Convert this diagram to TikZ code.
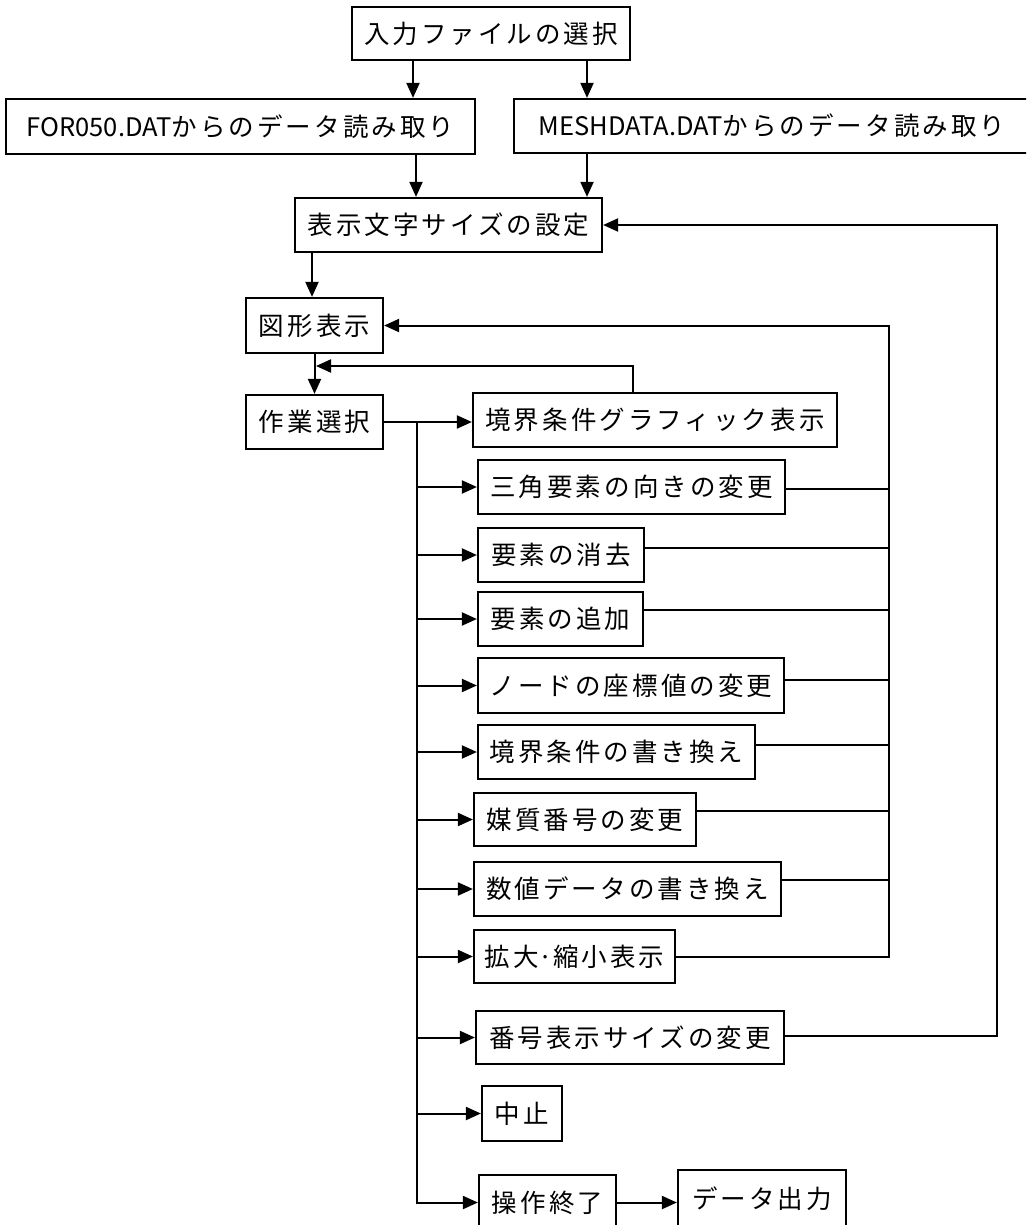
\documentclass[tikz,border=0pt]{standalone}
\usepackage{fontspec}
\usetikzlibrary{arrows.meta}
\newfontfamily\jp[LetterSpace=12]{Noto Sans CJK JP}
\newfontfamily\jpl{Noto Sans CJK JP}
\begin{document}
\begin{tikzpicture}[x=1pt,y=-1pt,
  bx/.style={draw, line width=2.2pt, inner sep=0pt, font=\jp\fontsize{25.5}{30}\selectfont},
  ln/.style={line width=2pt},
  arr/.style={ln, -{Triangle[length=15pt,width=13pt]}}]
\useasboundingbox (0,0) rectangle (1026,1225);
\clip (0,0) rectangle (1026,1225);
\fill[white] (0,0) rectangle (1026,1225);
% boxes
\node[bx, minimum width=278pt, minimum height=53pt] (b1) at (491,33.5) {入力ファイルの選択};
\node[bx, minimum width=469pt, minimum height=55pt] (b2) at (240.5,126.5) {{\jpl FOR050.DAT}からのデータ読み取り};
\node[bx, minimum width=516pt, minimum height=54pt] (b3) at (772,126) {{\jpl MESHDATA.DAT}からのデータ読み取り};
\node[bx, minimum width=307pt, minimum height=54pt] (b4) at (448.5,225) {表示文字サイズの設定};
\node[bx, minimum width=137pt, minimum height=55pt] (b5) at (314.5,325.5) {図形表示};
\node[bx, minimum width=137pt, minimum height=54pt] (b6) at (314.5,422) {作業選択};
\node[bx, minimum width=364pt, minimum height=54pt] (b7) at (655,420) {境界条件グラフィック表示};
\node[bx, minimum width=307pt, minimum height=54pt] (b8) at (631.5,487) {三角要素の向きの変更};
\node[bx, minimum width=166pt, minimum height=54pt] (b9) at (561,555) {要素の消去};
\node[bx, minimum width=165pt, minimum height=54pt] (b10) at (560.5,619) {要素の追加};
\node[bx, minimum width=306pt, minimum height=55pt] (b11) at (631,685.5) {ノードの座標値の変更};
\node[bx, minimum width=277pt, minimum height=54pt] (b12) at (616.5,752) {境界条件の書き換え};
\node[bx, minimum width=222pt, minimum height=53pt] (b13) at (585,819.5) {媒質番号の変更};
\node[bx, minimum width=307pt, minimum height=54pt] (b14) at (627.5,889) {数値データの書き換え};
\node[bx, minimum width=201pt, minimum height=53pt] (b15) at (574.5,956.5) {拡大{\jpl ·}縮小表示};
\node[bx, minimum width=308pt, minimum height=53pt] (b16) at (630,1037.5) {番号表示サイズの変更};
\node[bx, minimum width=80pt, minimum height=55pt] (b17) at (522,1113.5) {中止};
\node[bx, minimum width=137pt, minimum height=55pt] (b18) at (547.5,1202.5) {操作終了};
\node[bx, minimum width=168pt, minimum height=58pt] (b19) at (762,1199) {データ出力};
% helper coordinates
\coordinate (tr) at (417,422);
\coordinate (v1) at (889,325.5);
\coordinate (v2) at (997,225);
\coordinate (fb) at (316,366);
% top arrows
\draw[arr] ([xshift=-78pt]b1.south) -- ([xshift=-78pt]b1.south |- b2.north);
\draw[arr] ([xshift=96pt]b1.south) -- ([xshift=96pt]b1.south |- b3.north);
\draw[arr] ([xshift=175.5pt]b2.south) -- ([xshift=175.5pt]b2.south |- b4.north);
\draw[arr] ([xshift=-185pt]b3.south) -- ([xshift=-185pt]b3.south |- b4.north);
\draw[arr] ([xshift=-136.5pt]b4.south) -- ([xshift=-136.5pt]b4.south |- b5.north);
\draw[arr] (b5.south) -- (b6.north);
\draw[arr] (b6.east) -- (b6.east -| b7.west);
\draw[arr] ([xshift=-22pt]b7.north) |- (fb);
% trunk and branches
\draw[arr] (tr) -- (tr |- b18.west) -- (b18.west);
\draw[arr] (tr |- b8.west) -- (b8.west);
\draw[arr] (tr |- b9.west) -- (b9.west);
\draw[arr] (tr |- b10.west) -- (b10.west);
\draw[arr] (tr |- b11.west) -- (b11.west);
\draw[arr] (tr |- b12.west) -- (b12.west);
\draw[arr] (tr |- b13.west) -- (b13.west);
\draw[arr] (tr |- b14.west) -- (b14.west);
\draw[arr] (tr |- b15.west) -- (b15.west);
\draw[arr] (tr |- b16.west) -- (b16.west);
\draw[arr] (tr |- b17.west) -- (b17.west);
\draw[arr] (b18.east) -- (b18.east -| b19.west);
% return lines to 図形表示
\draw[arr] (b15.east) -| (v1) -- (b5.east);
\draw[ln] ([yshift=-2pt]b8.east) -- ([yshift=-2pt]b8.east -| v1);
\draw[ln] ([yshift=7pt]b9.east) -- ([yshift=7pt]b9.east -| v1);
\draw[ln] ([yshift=9pt]b10.east) -- ([yshift=9pt]b10.east -| v1);
\draw[ln] ([yshift=6pt]b11.east) -- ([yshift=6pt]b11.east -| v1);
\draw[ln] ([yshift=7pt]b12.east) -- ([yshift=7pt]b12.east -| v1);
\draw[ln] ([yshift=9pt]b13.east) -- ([yshift=9pt]b13.east -| v1);
\draw[ln] ([yshift=9pt]b14.east) -- ([yshift=9pt]b14.east -| v1);
% return line to 表示文字サイズの設定
\draw[arr] ([yshift=2pt]b16.east) -| (v2) -- (b4.east);
\end{tikzpicture}
\end{document}
